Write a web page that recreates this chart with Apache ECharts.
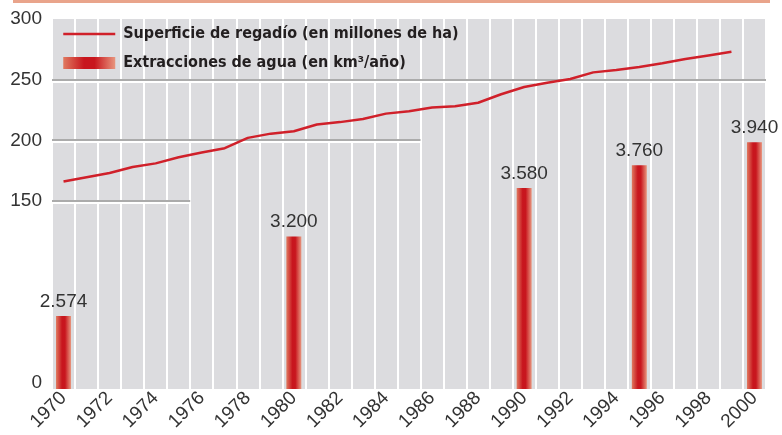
<!DOCTYPE html>
<html>
<head>
<meta charset="utf-8">
<script src="https://cdn.jsdelivr.net/npm/echarts@6/dist/echarts.min.js"></script>
<style>
html,body{margin:0;padding:0;background:#fff;}
#chart{width:782px;height:435px;}
</style>
</head>
<body>
<div id="chart"></div>
<script>
// ---- data ----
const years = ['1970','1971','1972','1973','1974','1975','1976','1977','1978','1979',
  '1980','1981','1982','1983','1984','1985','1986','1987','1988','1989',
  '1990','1991','1992','1993','1994','1995','1996','1997','1998','1999','2000'];
const lineName = 'Superficie de regadío (en millones de ha)';
const irrigatedArea = [166,169.5,173,178,181,186,190,193.5,202,205.5,
  207.5,213,215,217.5,222,224,227,228,231,238,
  244,247.5,250.5,256,258,260.5,263.5,267,270,273,null];
const barName = 'Extracciones de agua (en km³/año)';
const barYears = ['1970','1980','1990','1995','2000'];
const barValues = [2574,3200,3580,3760,3940];
const yLabelValues = [0,150,200,250,300];
const hlineValues = [150,200,250];
const hlineEnds = ['1975','1985','2000'];

const withdrawals = years.map(y => {
  const i = barYears.indexOf(y);
  return i >= 0 ? barValues[i] : null;
});
const fmt = v => String(v).replace(/\B(?=(\d{3})+(?!\d))/g, '.');

const chart = echarts.init(document.getElementById('chart'));
const barGrad = new echarts.graphic.LinearGradient(0,0,1,0,[
  {offset:0,color:'#e07a60'},{offset:0.4,color:'#c8161e'},{offset:0.6,color:'#c8161e'},{offset:1,color:'#e8967e'}]);

chart.setOption({
  animation:false,
  textStyle:{fontFamily:'Liberation Sans, Arial, sans-serif'},
  graphic:[{type:'rect',left:13,top:0,shape:{width:757,height:3},style:{fill:'#e9a48b'},silent:true}],
  grid:{left:52,right:16,top:19,bottom:46,show:true,backgroundColor:'#dcdcdf',borderWidth:0},
  legend:{
    orient:'vertical',left:62,top:25,padding:0,itemWidth:52,itemHeight:12,itemGap:11,selectedMode:false,
    data:[{name:lineName,itemStyle:{opacity:0},lineStyle:{width:2.5,color:'#d0202a'}},{name:barName,icon:'rect'}],
    textStyle:{fontFamily:'Liberation Sans Narrow, DejaVu Sans Condensed, sans-serif',fontWeight:'bold',fontSize:16,lineHeight:18,color:'#231f20',padding:[0,0,0,3]}
  },
  xAxis:{
    type:'category',data:years,boundaryGap:true,
    axisLine:{show:false},axisTick:{show:false},
    axisLabel:{interval:1,rotate:45,fontSize:19,color:'#333',margin:6},
    splitLine:{show:true,interval:0,lineStyle:{color:'#ffffff',width:2}}
  },
  yAxis:[
    {type:'value',min:-5,max:300,
      axisLine:{show:false},axisTick:{show:false},splitLine:{show:false},
      axisLabel:{customValues:yLabelValues,fontSize:19,color:'#333',margin:10}},
    {type:'value',min:2000,max:4910,show:false,splitLine:{show:false}}
  ],
  series:[
    {type:'custom',name:'hlines',yAxisIndex:0,z:1,silent:true,
      data:hlineEnds.map((e,i)=>[e,hlineValues[i]]),
      encode:{x:0,y:1},
      renderItem:function(params,api){
        const v = api.value(1);
        const half = api.size([1,0])[0]/2;
        const p0 = api.coord([0,v]);
        const p1 = api.coord([api.value(0),v]);
        const x0 = p0[0]-half, x1 = p1[0]+half, y = Math.round(p0[1]);
        return {type:'group',children:[
          {type:'rect',shape:{x:x0,y:y-1,width:x1-x0,height:2},style:{fill:'#ababab'}},
          {type:'rect',shape:{x:x0,y:y+1,width:x1-x0,height:2},style:{fill:'#ffffff'}}
        ]};
      }},
    {type:'bar',name:barName,yAxisIndex:1,data:withdrawals,barWidth:15,z:3,
      itemStyle:{color:barGrad},
      label:{show:true,position:'top',distance:5,fontSize:19,color:'#333',formatter:p=>fmt(p.value)}},
    {type:'line',name:lineName,yAxisIndex:0,data:irrigatedArea,symbol:'none',z:4,
      lineStyle:{color:'#d0202a',width:2.5},itemStyle:{color:'#d0202a'}}
  ]
});
</script>
</body>
</html>
